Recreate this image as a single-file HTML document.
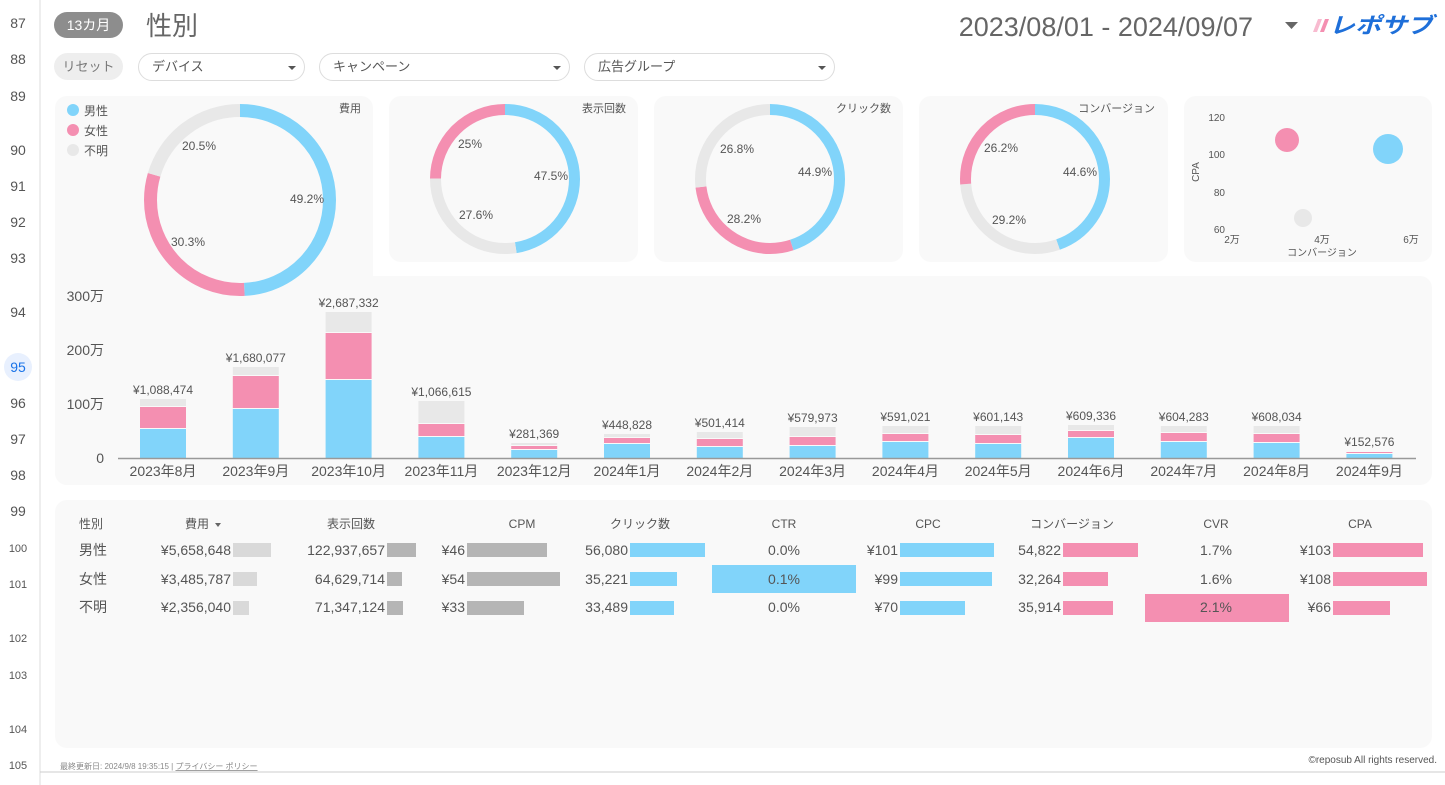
<!DOCTYPE html>
<html><head><meta charset="utf-8"><style>
body{margin:0;background:#fff;width:1445px;height:785px;overflow:hidden;font-family:"Liberation Sans","Noto Sans CJK JP",sans-serif;}
svg{display:block}
text{font-family:"Liberation Sans","Noto Sans CJK JP",sans-serif;fill:#555}
</style></head><body>
<svg width="1445" height="785" viewBox="0 0 1445 785" xmlns="http://www.w3.org/2000/svg">
<line x1="40" y1="0" x2="40" y2="785" stroke="#ddd"/>
<g font-size="14" text-anchor="middle">
<text x="18" y="28">87</text><text x="18" y="64">88</text><text x="18" y="101">89</text>
<text x="18" y="155">90</text><text x="18" y="191">91</text><text x="18" y="227">92</text>
<text x="18" y="263">93</text><text x="18" y="317">94</text>
<circle cx="18" cy="367" r="14" fill="#e8f0fe"/><text x="18" y="372" style="fill:#1a73e8">95</text>
<text x="18" y="408">96</text><text x="18" y="444">97</text><text x="18" y="480">98</text><text x="18" y="516">99</text>
</g>
<g font-size="11" text-anchor="middle">
<text x="18" y="552">100</text><text x="18" y="588">101</text><text x="18" y="642">102</text>
<text x="18" y="679">103</text><text x="18" y="733">104</text><text x="18" y="769">105</text>
</g>
<rect x="54" y="12" width="69" height="26" rx="13" fill="#8d8d8d"/>
<text x="88.5" y="30" font-size="14" text-anchor="middle" style="fill:#fff">13カ月</text>
<text x="146" y="35" font-size="26" style="fill:#666">性別</text>
<text x="1253" y="36" font-size="27" text-anchor="end" style="fill:#666">2023/08/01 - 2024/09/07</text>
<path d="M1285 22 L1298 22 L1291.5 29 Z" fill="#666"/>
<path d="M1313 32 L1318 19 L1322 19 L1317 32 Z" fill="#f8bbd0"/>
<path d="M1320 32 L1325 19 L1329 19 L1324 32 Z" fill="#f48fb1"/>
<text x="1329" y="33" font-size="22" font-weight="bold" font-style="italic" textLength="104" lengthAdjust="spacingAndGlyphs" style="fill:#1e6fd9">レポサブ</text>
<rect x="54" y="53" width="69" height="27" rx="13.5" fill="#eee"/>
<text x="88.5" y="71" font-size="13" text-anchor="middle" style="fill:#777">リセット</text>
<rect x="138.5" y="53.5" width="166" height="27" rx="13.5" fill="#fff" stroke="#ddd"/>
<text x="152" y="71" font-size="13">デバイス</text><path d="M288 66 L296 66 L292 70Z" fill="#555"/>
<rect x="319.5" y="53.5" width="250" height="27" rx="13.5" fill="#fff" stroke="#ddd"/>
<text x="333" y="71" font-size="13">キャンペーン</text><path d="M553 66 L561 66 L557 70Z" fill="#555"/>
<rect x="584.5" y="53.5" width="250" height="27" rx="13.5" fill="#fff" stroke="#ddd"/>
<text x="598" y="71" font-size="13">広告グループ</text><path d="M818 66 L826 66 L822 70Z" fill="#555"/>
<rect x="55" y="96" width="318" height="389" rx="12" fill="#f9f9f9"/>
<rect x="55" y="276" width="1377" height="209" rx="12" fill="#f9f9f9"/>
<rect x="389" y="96" width="249" height="166" rx="12" fill="#f9f9f9"/>
<rect x="654" y="96" width="249" height="166" rx="12" fill="#f9f9f9"/>
<rect x="919" y="96" width="249" height="166" rx="12" fill="#f9f9f9"/>
<rect x="1184" y="96" width="248" height="166" rx="12" fill="#f9f9f9"/>
<rect x="55" y="500" width="1377" height="248" rx="12" fill="#f9f9f9"/>
<circle cx="73" cy="110" r="6" fill="#81d4fa"/><text x="84" y="115" font-size="12">男性</text>
<circle cx="73" cy="130" r="6" fill="#f48fb1"/><text x="84" y="135" font-size="12">女性</text>
<circle cx="73" cy="150" r="6" fill="#e8e8e8"/><text x="84" y="155" font-size="12">不明</text>
<g fill="none" stroke-width="13" transform="rotate(-90 240 200)">
<circle cx="240" cy="200" r="89.5" stroke="#81d4fa" stroke-dasharray="276.7 600" stroke-dashoffset="0"/>
<circle cx="240" cy="200" r="89.5" stroke="#f48fb1" stroke-dasharray="170.4 600" stroke-dashoffset="-276.7"/>
<circle cx="240" cy="200" r="89.5" stroke="#e8e8e8" stroke-dasharray="115.3 600" stroke-dashoffset="-447.1"/>
</g>
<g font-size="12"><text x="361" y="112" font-size="11" text-anchor="end">費用</text>
<text x="182" y="150">20.5%</text><text x="290" y="203">49.2%</text><text x="171" y="246">30.3%</text></g>
<g fill="none" stroke-width="11" transform="rotate(-90 505 179)">
<circle cx="505" cy="179" r="69.5" stroke="#81d4fa" stroke-dasharray="207.4 500"/>
<circle cx="505" cy="179" r="69.5" stroke="#e8e8e8" stroke-dasharray="120.5 500" stroke-dashoffset="-207.4"/>
<circle cx="505" cy="179" r="69.5" stroke="#f48fb1" stroke-dasharray="109.3 500" stroke-dashoffset="-327.9"/>
</g>
<g font-size="12"><text x="626" y="112" font-size="11" text-anchor="end">表示回数</text>
<text x="458" y="148">25%</text><text x="534" y="180">47.5%</text><text x="459" y="219">27.6%</text></g>
<g fill="none" stroke-width="11" transform="rotate(-90 770 179)">
<circle cx="770" cy="179" r="69.5" stroke="#81d4fa" stroke-dasharray="196.1 500"/>
<circle cx="770" cy="179" r="69.5" stroke="#f48fb1" stroke-dasharray="123.2 500" stroke-dashoffset="-196.1"/>
<circle cx="770" cy="179" r="69.5" stroke="#e8e8e8" stroke-dasharray="117.4 500" stroke-dashoffset="-319.3"/>
</g>
<g font-size="12"><text x="891" y="112" font-size="11" text-anchor="end">クリック数</text>
<text x="720" y="153">26.8%</text><text x="798" y="176">44.9%</text><text x="727" y="223">28.2%</text></g>
<g fill="none" stroke-width="11" transform="rotate(-90 1035 179)">
<circle cx="1035" cy="179" r="69.5" stroke="#81d4fa" stroke-dasharray="194.8 500"/>
<circle cx="1035" cy="179" r="69.5" stroke="#e8e8e8" stroke-dasharray="127.5 500" stroke-dashoffset="-194.8"/>
<circle cx="1035" cy="179" r="69.5" stroke="#f48fb1" stroke-dasharray="114.4 500" stroke-dashoffset="-322.3"/>
</g>
<g font-size="12"><text x="1155" y="112" font-size="11" text-anchor="end">コンバージョン</text>
<text x="984" y="152">26.2%</text><text x="1063" y="176">44.6%</text><text x="992" y="224">29.2%</text></g>
<g font-size="10">
<text x="1225" y="121" text-anchor="end">120</text><text x="1225" y="158" text-anchor="end">100</text>
<text x="1225" y="196" text-anchor="end">80</text><text x="1225" y="233" text-anchor="end">60</text>
<text x="1232" y="243" text-anchor="middle">2万</text><text x="1322" y="243" text-anchor="middle">4万</text><text x="1411" y="243" text-anchor="middle">6万</text>
<text x="1322" y="256" text-anchor="middle">コンバージョン</text>
<text x="1199" y="172" text-anchor="middle" transform="rotate(-90 1199 172)">CPA</text>
</g>
<circle cx="1287" cy="140" r="12" fill="#f48fb1"/>
<circle cx="1388" cy="149" r="15" fill="#81d4fa"/>
<circle cx="1303" cy="218" r="9" fill="#e8e8e8"/>
<g font-size="14" text-anchor="end">
<text x="104" y="301">300万</text><text x="104" y="355">200万</text><text x="104" y="409">100万</text><text x="104" y="463">0</text>
</g>
<g id="bars"></g>
<line x1="118" y1="458.5" x2="1416" y2="458.5" stroke="#999" stroke-width="1.5"/>
<g font-size="12" text-anchor="middle" style="fill:#666">
<text x="91" y="528">性別</text><text x="197" y="528">費用</text><path d="M215 523 L221 523 L218 527Z" fill="#666"/>
<text x="351" y="528">表示回数</text><text x="522" y="528">CPM</text><text x="640" y="528">クリック数</text>
<text x="784" y="528">CTR</text><text x="928" y="528">CPC</text><text x="1072" y="528">コンバージョン</text>
<text x="1216" y="528">CVR</text><text x="1360" y="528">CPA</text>
</g>
<rect x="712" y="565" width="144" height="28" fill="#81d4fa"/>
<rect x="1145" y="594" width="144" height="28" fill="#f48fb1"/>
<g fill="#d9d9d9"><rect x="233" y="543" width="38" height="14"/><rect x="233" y="572" width="24" height="14"/><rect x="233" y="601" width="16" height="14"/></g>
<g fill="#b5b5b5"><rect x="387" y="543" width="29" height="14"/><rect x="387" y="572" width="15" height="14"/><rect x="387" y="601" width="16" height="14"/>
<rect x="467" y="543" width="80" height="14"/><rect x="467" y="572" width="93" height="14"/><rect x="467" y="601" width="57" height="14"/></g>
<g fill="#81d4fa"><rect x="630" y="543" width="75" height="14"/><rect x="630" y="572" width="47" height="14"/><rect x="630" y="601" width="44" height="14"/>
<rect x="900" y="543" width="94" height="14"/><rect x="900" y="572" width="92" height="14"/><rect x="900" y="601" width="65" height="14"/></g>
<g fill="#f48fb1"><rect x="1063" y="543" width="75" height="14"/><rect x="1063" y="572" width="45" height="14"/><rect x="1063" y="601" width="50" height="14"/>
<rect x="1333" y="543" width="90" height="14"/><rect x="1333" y="572" width="94" height="14"/><rect x="1333" y="601" width="57" height="14"/></g>
<g font-size="14">
<text x="79" y="555">男性</text><text x="79" y="584">女性</text><text x="79" y="612">不明</text>
<g text-anchor="end">
<text x="231" y="555">¥5,658,648</text><text x="231" y="584">¥3,485,787</text><text x="231" y="612">¥2,356,040</text>
<text x="385" y="555">122,937,657</text><text x="385" y="584">64,629,714</text><text x="385" y="612">71,347,124</text>
<text x="465" y="555">¥46</text><text x="465" y="584">¥54</text><text x="465" y="612">¥33</text>
<text x="628" y="555">56,080</text><text x="628" y="584">35,221</text><text x="628" y="612">33,489</text>
<text x="898" y="555">¥101</text><text x="898" y="584">¥99</text><text x="898" y="612">¥70</text>
<text x="1061" y="555">54,822</text><text x="1061" y="584">32,264</text><text x="1061" y="612">35,914</text>
<text x="1331" y="555">¥103</text><text x="1331" y="584">¥108</text><text x="1331" y="612">¥66</text>
</g>
<g text-anchor="middle">
<text x="784" y="555">0.0%</text><text x="784" y="584">0.1%</text><text x="784" y="612">0.0%</text>
<text x="1216" y="555">1.7%</text><text x="1216" y="584">1.6%</text><text x="1216" y="612">2.1%</text>
</g></g>
<text x="60" y="769" font-size="8" style="fill:#888">最終更新日: 2024/9/8 19:35:15 | <tspan text-decoration="underline">プライバシー ポリシー</tspan></text>
<text x="1437" y="763" font-size="10" text-anchor="end">©reposub All rights reserved.</text>
<line x1="40" y1="772" x2="1445" y2="772" stroke="#ccc"/>
</svg>
<script>
var d=[["2023年8月","¥1,088,474",399,407,429],["2023年9月","¥1,680,077",367,376,409],["2023年10月","¥2,687,332",312,333,380],["2023年11月","¥1,066,615",401,424,437],["2023年12月","¥281,369",443,446,450],["2024年1月","¥448,828",434,438,444],["2024年2月","¥501,414",432,439,447],["2024年3月","¥579,973",427,437,446],["2024年4月","¥591,021",426,434,442],["2024年5月","¥601,143",426,435,444],["2024年6月","¥609,336",425,431,438],["2024年7月","¥604,283",426,433,442],["2024年8月","¥608,034",426,434,443],["2024年9月","¥152,576",451,452,454]];
var s="";d.forEach(function(r,i){var c=163+92.8*i,x=c-23;
s+='<rect x="'+x+'" y="'+r[2]+'" width="46" height="'+(r[3]-r[2]-1)+'" fill="#e8e8e8"/>';
s+='<rect x="'+x+'" y="'+r[3]+'" width="46" height="'+(r[4]-r[3]-1)+'" fill="#f48fb1"/>';
s+='<rect x="'+x+'" y="'+r[4]+'" width="46" height="'+(458-r[4])+'" fill="#81d4fa"/>';
s+='<text x="'+c+'" y="'+(r[2]-5)+'" font-size="12" text-anchor="middle">'+r[1]+'</text>';
s+='<text x="'+c+'" y="476" font-size="14" text-anchor="middle">'+r[0]+'</text>';});
document.getElementById("bars").innerHTML=s;
</script>
</body></html>
